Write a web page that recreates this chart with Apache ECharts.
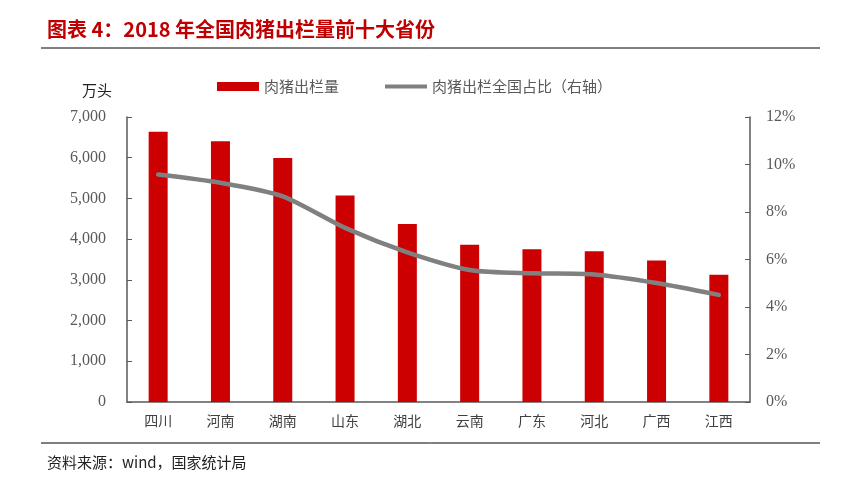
<!DOCTYPE html>
<html><head><meta charset="utf-8">
<script src="https://cdn.jsdelivr.net/npm/echarts@6/dist/echarts.min.js"></script>
<style>html,body{margin:0;padding:0;background:#fff}#c{width:863px;height:484px}</style>
</head><body><div id="c"></div>
<script>
const categories = ['四川','河南','湖南','山东','湖北','云南','广东','河北','广西','江西'];
const slaughterVolume = [6638, 6402, 5995, 5074, 4369, 3860, 3754, 3704, 3473, 3128];
const nationalShare = [9.58, 9.23, 8.66, 7.33, 6.30, 5.56, 5.42, 5.37, 5.01, 4.51];
const leftTicks = {min: 0, max: 7000, interval: 1000};
const rightTicks = {min: 0, max: 12, interval: 2};
const seriesNames = ['肉猪出栏量', '肉猪出栏全国占比（右轴）'];

const CJK = '"Noto Sans CJK SC", sans-serif';
const SERIF = '"Liberation Serif", "DejaVu Serif", serif';
const chart = echarts.init(document.getElementById('c'));
chart.setOption({
  animation: false,
  backgroundColor: '#fff',
  title: [
    {text: '图表 4：2018 年全国肉猪出栏量前十大省份', left: 42, top: 14,
     textStyle: {color: '#c00000', fontSize: 20, fontWeight: 'bold', fontFamily: CJK}},
    {text: '资料来源：wind，国家统计局', left: 42, top: 450,
     textStyle: {color: '#222', fontSize: 15, fontWeight: 'normal', fontFamily: CJK}},
    {text: '万头', left: 77, top: 78,
     textStyle: {color: '#222', fontSize: 15, fontWeight: 'normal', fontFamily: CJK}}
  ],
  graphic: [
    {type: 'line', shape: {x1: 41, y1: 48, x2: 820, y2: 48}, style: {stroke: '#000', lineWidth: 1}},
    {type: 'line', shape: {x1: 41, y1: 443, x2: 820, y2: 443}, style: {stroke: '#000', lineWidth: 1}}
  ],
  legend: {
    left: 212, top: 74, itemWidth: 42, itemHeight: 9, itemGap: 46,
    textStyle: {color: '#595959', fontSize: 15, fontFamily: CJK},
    data: [
      {name: seriesNames[0], icon: 'rect'},
      {name: seriesNames[1], icon: 'path://M0,0.01h0.01v-0.01h-0.01zM0,2.5h44v4h-44zM0,9h0.01v0.01h-0.01z'}
    ]
  },
  grid: {left: 127, right: 113, top: 117, bottom: 82},
  xAxis: {
    type: 'category', data: categories,
    axisLine: {lineStyle: {color: '#595959', width: 1.5}},
    axisTick: {show: false},
    axisLabel: {color: '#404040', fontSize: 14, fontFamily: CJK, margin: 12}
  },
  yAxis: [
    {type: 'value', min: leftTicks.min, max: leftTicks.max, interval: leftTicks.interval,
     axisLine: {show: true, lineStyle: {color: '#595959', width: 1.5}},
     axisTick: {show: true, inside: true, length: 5, lineStyle: {color: '#595959'}},
     splitLine: {show: false},
     axisLabel: {color: '#595959', fontSize: 16, fontFamily: SERIF, margin: 21,
       formatter: v => v.toLocaleString('en-US')}},
    {type: 'value', min: rightTicks.min, max: rightTicks.max, interval: rightTicks.interval,
     position: 'right',
     axisLine: {show: true, lineStyle: {color: '#595959', width: 1.5}},
     axisTick: {show: true, inside: true, length: 5, lineStyle: {color: '#595959'}},
     splitLine: {show: false},
     axisLabel: {color: '#595959', fontSize: 16, fontFamily: SERIF, margin: 16,
       formatter: v => v + '%'}}
  ],
  series: [
    {name: seriesNames[0], type: 'bar', data: slaughterVolume, barWidth: 19,
     itemStyle: {color: '#cc0000'}},
    {name: seriesNames[1], type: 'line', yAxisIndex: 1, data: nationalShare,
     symbol: 'none', smooth: 0.25,
     lineStyle: {color: '#808080', width: 4.5, cap: 'round'}, itemStyle: {color: '#808080'}}
  ]
});
</script></body></html>
